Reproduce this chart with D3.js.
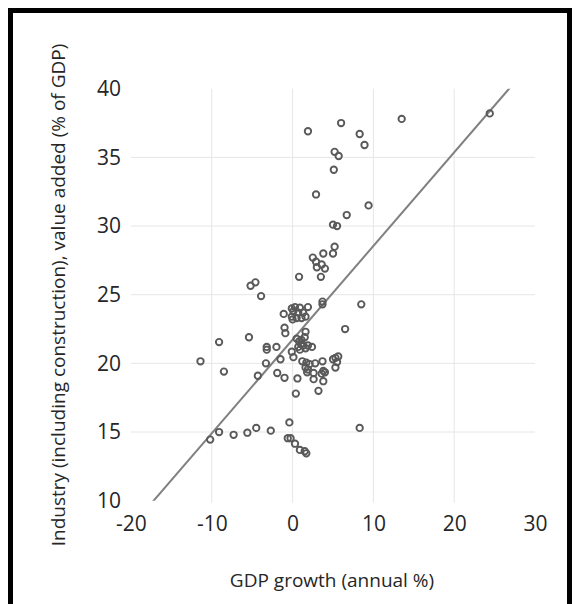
<!DOCTYPE html>
<html>
<head>
<meta charset="utf-8">
<script src="https://cdn.jsdelivr.net/npm/d3@7"></script>
<style>
  html, body { margin: 0; padding: 0; background: #fff; }
  svg { display: block; }
  text { font-family: "Open Sans", "Noto Sans", sans-serif; fill: #262626; }
</style>
</head>
<body>
<svg id="chart" width="575" height="604"></svg>
<script>
// ---- data ----
const gdpGrowth = [
  1.9, 6.0, 13.5, 24.4, 8.3, 8.9, 5.2, 5.7, 5.1, 2.9, 9.4, 6.7, 5.0, 5.5, 5.2, 5.0, 3.8, 2.5, 2.9, 3.6,
  3.0, 4.0, 3.5, 0.8, -4.6, -5.2, -3.9, 3.7, 3.7, 8.5,
  -1.1, -0.1, 0.3, 0.9, 1.9, 0.1, 0.7, 1.3, -0.1, 0.5, 1.1, 1.6, 0.0,
  -1.0, -0.9, 1.6, 1.5, 6.5, -5.4, -9.1,
  0.5, 0.8, 1.1, 1.05, 1.3, 0.7, 1.6, 1.9, 0.9, 2.4, -3.2, -3.2, -2.0,
  -0.1, 0.1, -1.5, -3.3, -11.4, 1.2, 1.7, 2.1, 2.8, 3.7, 1.6, 1.9, 1.8, 2.6, 3.8, 4.0, 3.6,
  5.0, 5.3, 5.65, 5.5, 5.3, -8.5, -4.3, -1.9, -1.0, 0.6, 2.6, 3.8, 3.2, 0.4,
  -0.4, 8.3, -4.5, -2.7, -9.1, -5.6, -7.3, -10.2, -0.6, -0.25, 0.3, 0.9, 1.5, 1.7
];
const industryShare = [
  36.9, 37.5, 37.8, 38.2, 36.7, 35.9, 35.4, 35.1, 34.1, 32.3, 31.5, 30.8, 30.1, 30.0, 28.5, 28.0, 28.0, 27.7, 27.4, 27.2,
  27.0, 26.9, 26.3, 26.3, 25.9, 25.65, 24.9, 24.5, 24.3, 24.3,
  23.6, 24.0, 24.1, 24.05, 24.1, 23.8, 23.7, 23.7, 23.4, 23.3, 23.3, 23.4, 23.2,
  22.6, 22.2, 22.3, 21.9, 22.5, 21.9, 21.55,
  21.8, 21.6, 21.7, 21.4, 21.3, 21.2, 21.1, 21.3, 21.0, 21.2, 21.2, 21.0, 21.2,
  20.85, 20.45, 20.3, 20.0, 20.15, 20.15, 20.05, 19.95, 20.0, 20.15, 19.7, 19.55, 19.35, 19.3, 19.45, 19.35, 19.25,
  20.3, 20.4, 20.5, 20.1, 19.7, 19.4, 19.1, 19.3, 18.95, 18.9, 18.85, 18.7, 18.0, 17.8,
  15.7, 15.3, 15.3, 15.1, 15.0, 14.95, 14.8, 14.45, 14.55, 14.55, 14.15, 13.7, 13.6, 13.45
];
const xTicks = [-20, -10, 0, 10, 20, 30];
const yTicks = [10, 15, 20, 25, 30, 35, 40];
const trendSlope = 0.682;
const trendIntercept = 21.73;
const xTitle = "GDP growth (annual %)";
const yTitle = "Industry (including construction), value added (% of GDP)";

// ---- layout ----
const svg = d3.select("#chart");
const plot = { left: 131, right: 535, top: 88.7, bottom: 500.7 };
const x = d3.scaleLinear().domain([-20, 30]).range([plot.left, plot.right]);
const y = d3.scaleLinear().domain([10, 40]).range([plot.bottom, plot.top]);

// frame
svg.append("rect")
  .attr("x", 10.5).attr("y", 10.5)
  .attr("width", 559).attr("height", 640)
  .attr("fill", "none").attr("stroke", "#000").attr("stroke-width", 5);

// gridlines
const grid = svg.append("g").attr("stroke", "#e6e6e6").attr("stroke-width", 1);
grid.selectAll("line.v").data(xTicks.slice(1, -1)).join("line")
  .attr("x1", d => x(d)).attr("x2", d => x(d))
  .attr("y1", plot.top).attr("y2", plot.bottom + 2);
grid.selectAll("line.h").data(yTicks.slice(1, -1)).join("line")
  .attr("x1", plot.left).attr("x2", plot.right)
  .attr("y1", d => y(d)).attr("y2", d => y(d));

// axes (tick labels only)
const fmt = d => String(d);
const xAxis = svg.append("g")
  .attr("transform", `translate(0,${plot.bottom + 8})`)
  .call(d3.axisBottom(x).tickValues(xTicks).tickFormat(fmt).tickSize(0).tickPadding(7));
const yAxis = svg.append("g")
  .attr("transform", `translate(${plot.left - 10},0)`)
  .call(d3.axisLeft(y).tickValues(yTicks).tickFormat(fmt).tickSize(0).tickPadding(0));
[xAxis, yAxis].forEach(a => {
  a.select(".domain").remove();
  a.selectAll("text").attr("font-family", "Open Sans").attr("font-size", 21).attr("fill", "#1a1a1a");
});

// clip for trendline
svg.append("clipPath").attr("id", "plotclip").append("rect")
  .attr("x", plot.left).attr("y", plot.top)
  .attr("width", plot.right - plot.left).attr("height", plot.bottom - plot.top);

const xd = x.domain();
const trendPts = xd.map(v => [v, trendSlope * v + trendIntercept]);
svg.append("path")
  .attr("clip-path", "url(#plotclip)")
  .attr("d", d3.line().x(d => x(d[0])).y(d => y(d[1]))(trendPts))
  .attr("fill", "none").attr("stroke", "#808080").attr("stroke-width", 2);

// points
const pts = gdpGrowth.map((g, i) => ({ g, v: industryShare[i] }));
svg.append("g").selectAll("circle").data(pts).join("circle")
  .attr("cx", d => x(d.g)).attr("cy", d => y(d.v)).attr("r", 3.2)
  .attr("fill", "none").attr("stroke", "#595959").attr("stroke-width", 1.9);

// titles
svg.append("text")
  .attr("x", 332).attr("y", 587)
  .attr("text-anchor", "middle").attr("font-size", 19).attr("fill", "#1a1a1a")
  .text(xTitle);
svg.append("text")
  .attr("transform", "translate(65,295) rotate(-90)")
  .attr("text-anchor", "middle").attr("font-size", 19).attr("fill", "#1a1a1a")
  .text(yTitle);
</script>
</body>
</html>
